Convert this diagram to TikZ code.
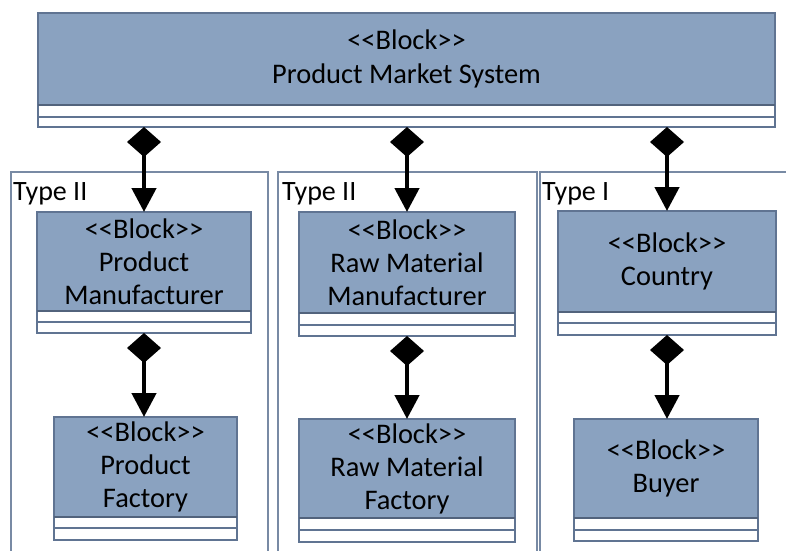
\documentclass[tikz,border=0pt]{standalone}
\usepackage{fontspec}
\setmainfont{Carlito}
\usetikzlibrary{arrows.meta}
\definecolor{blkfill}{RGB}{138,162,192}
\definecolor{blkline}{RGB}{96,116,146}
\definecolor{frameline}{RGB}{120,138,164}
\tikzset{
  blockframe/.style={draw=blkline, line width=1.5pt, fill=white, inner sep=0pt, outer sep=0pt},
  blockline/.style={draw=blkline, line width=1.5pt},
  blocksep/.style={draw=blkline!85!black, line width=2.2pt},
  blocktext/.style={align=center, inner sep=0pt, font=\fontsize{28.4}{33}\selectfont},
  typeframe/.style={draw=frameline, line width=1.3pt},
  typelabel/.style={anchor=base west, inner sep=0pt, font=\fontsize{28}{33}\selectfont},
  comp/.style={line width=4.5pt, {Diamond[length=30pt,width=34pt]}-{Triangle[length=24pt,width=24pt]}},
}
% name, x1, y1, x2, yfill, yline, ybottom, text
\newcommand\umlblk[8]{%
  \node[blockframe, minimum width={(#4)-(#2)}, minimum height={(#7)-(#3)}] (#1) at ({((#2)+(#4))/2},{((#3)+(#7))/2}) {};
  \fill[blkfill] (#2,#3) rectangle (#4,#5);
  \draw[blockline] (#2,#3) rectangle (#4,#7);
  \draw[blockline] (#2,#6) -- (#4,#6);
  \draw[blocksep] (#2,#5) -- (#4,#5);
  \node[blocktext] (#1-t) at ({((#2)+(#4))/2},{((#3)+(#5))/2}) {#8};
}
\begin{document}
\begin{tikzpicture}[x=1pt,y=-1pt]
\path[use as bounding box] (0,0) rectangle (786,550);
\clip (0,0) rectangle (786,550);
% type frames
\draw[typeframe] (11,172) rectangle (268,570);
\draw[typeframe] (278,172) rectangle (537,570);
\draw[typeframe] (540,172) rectangle (810,570);
\node[typelabel] (l1) at (13,200) {Type II};
\node[typelabel] (l2) at (282,200) {Type II};
\node[typelabel] (l3) at (542,200) {Type I};
% blocks
\umlblk{top}{38}{13}{775}{105}{117}{127}{<{}<Block>{}>\\[1pt]Product Market System}
\umlblk{pm}{37}{212}{251}{311}{322}{333}{<{}<Block>{}>\\Product\\Manufacturer}
\umlblk{pf}{54}{417}{237}{517}{528}{540}{<{}<Block>{}>\\Product\\Factory}
\umlblk{rm}{299}{212}{515}{313}{325}{336}{<{}<Block>{}>\\Raw Material\\Manufacturer}
\umlblk{rf}{299}{419}{515}{518}{530}{542}{<{}<Block>{}>\\Raw Material\\Factory}
\umlblk{co}{558}{211}{776}{312}{323}{335}{<{}<Block>{}>\\Country}
\umlblk{bu}{574}{419}{758}{518}{530}{541}{<{}<Block>{}>\\Buyer}
% connectors
\draw[comp] (top.south -| pm.north) -- (pm.north);
\draw[comp] (top.south -| rm.north) -- (rm.north);
\draw[comp] (top.south -| co.north) -- (co.north);
\draw[comp] (pm.south) -- (pm.south |- pf.north);
\draw[comp] (rm.south) -- (rm.south |- rf.north);
\draw[comp] (co.south) -- (co.south |- bu.north);
\end{tikzpicture}
\end{document}
